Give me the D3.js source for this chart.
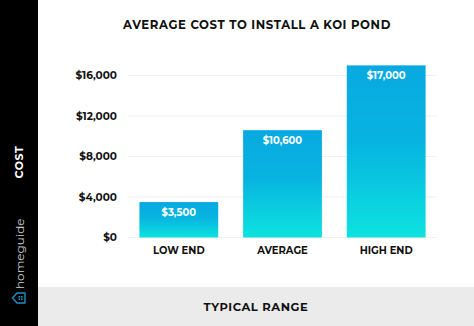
<!DOCTYPE html>
<html>
<head>
<meta charset="utf-8">
<script src="https://cdn.jsdelivr.net/npm/d3@7"></script>
<style>
  body { margin: 0; background: #fff; }
  text { font-family: "Montserrat", "DejaVu Sans", sans-serif; }
</style>
</head>
<body>
<div id="chart"></div>
<script>
// chart data
const categories = ["LOW END", "AVERAGE", "HIGH END"];
const costs = [3500, 10600, 17000];
const yTicks = [0, 4000, 8000, 12000, 16000];
const title = "AVERAGE COST TO INSTALL A KOI POND";
const yTitle = "COST";
const xTitle = "TYPICAL RANGE";

const W = 474, H = 326;
const SIDE = 38;

const svg = d3.select("#chart")
  .append("svg")
    .attr("width", W)
    .attr("height", H);

// gradient for the bars
const grad = svg.append("defs").append("linearGradient")
    .attr("id", "barGrad")
    .attr("x1", 0).attr("y1", 0).attr("x2", 0).attr("y2", 1);
grad.append("stop").attr("offset", "0%").attr("stop-color", "#08a9e1");
grad.append("stop").attr("offset", "45%").attr("stop-color", "#07b4e0");
grad.append("stop").attr("offset", "100%").attr("stop-color", "#0de3df");

// black side strip
svg.append("rect")
    .attr("x", 0).attr("y", 0)
    .attr("width", SIDE).attr("height", H)
    .attr("fill", "#000");

// grey footer band
svg.append("rect")
    .attr("x", SIDE).attr("y", 287)
    .attr("width", W - SIDE).attr("height", H - 287)
    .attr("fill", "#ebebeb");

// scales
const x = d3.scaleBand()
    .domain(categories)
    .range([128, 437])
    .paddingInner(0.24)
    .paddingOuter(0.11);

const y = d3.scaleLinear()
    .domain([0, 16000])
    .range([237.5, 75.5]);

// gridlines
svg.append("g")
  .selectAll("line")
  .data(yTicks)
  .join("line")
    .attr("x1", 128).attr("x2", 437)
    .attr("y1", d => y(d)).attr("y2", d => y(d))
    .attr("stroke", "#f0f0f0")
    .attr("stroke-width", 1);

// y axis labels
const yAxis = svg.append("g")
    .attr("transform", "translate(117,0)")
    .call(d3.axisLeft(y).tickValues(yTicks).tickSize(0).tickPadding(0)
      .tickFormat(d => "$" + d3.format(",")(d)));
yAxis.select(".domain").remove();
yAxis.selectAll("text")
    .attr("font-family", "Montserrat, 'DejaVu Sans', sans-serif")
    .attr("font-size", 10.5)
    .attr("font-weight", "bold")
    .attr("fill", "#111");

// bars
svg.append("g")
  .selectAll("rect")
  .data(costs)
  .join("rect")
    .attr("x", (d, i) => x(categories[i]))
    .attr("y", d => y(d))
    .attr("width", x.bandwidth())
    .attr("height", d => y(0) - y(d))
    .attr("fill", "url(#barGrad)");

// value labels
svg.append("g")
  .selectAll("text")
  .data(costs)
  .join("text")
    .attr("x", (d, i) => x(categories[i]) + x.bandwidth() / 2)
    .attr("y", d => y(d) + 14)
    .attr("text-anchor", "middle")
    .attr("font-size", 10)
    .attr("font-weight", "bold")
    .attr("fill", "#fff")
    .text(d => "$" + d3.format(",")(d));

// x axis labels
const xAxis = svg.append("g")
    .attr("transform", "translate(0,247)")
    .call(d3.axisBottom(x).tickSize(0).tickPadding(0));
xAxis.select(".domain").remove();
xAxis.selectAll("text")
    .attr("font-family", "Montserrat, 'DejaVu Sans', sans-serif")
    .attr("font-size", 10)
    .attr("font-weight", "bold")
    .attr("fill", "#111");

// title
svg.append("text")
    .attr("x", 257).attr("y", 29)
    .attr("text-anchor", "middle")
    .attr("font-size", 11.7)
    .attr("font-weight", "bold")
    .attr("letter-spacing", 0.6)
    .attr("fill", "#111")
    .text(title);

// x title
svg.append("text")
    .attr("x", 256).attr("y", 310.5)
    .attr("text-anchor", "middle")
    .attr("font-size", 11.5)
    .attr("font-weight", "bold")
    .attr("letter-spacing", 0.6)
    .attr("fill", "#111")
    .text(xTitle);

// y title in side strip
svg.append("text")
    .attr("transform", "translate(23,162) rotate(-90)")
    .attr("text-anchor", "middle")
    .attr("font-size", 11)
    .attr("font-weight", "bold")
    .attr("letter-spacing", 0.6)
    .attr("fill", "#fff")
    .text(yTitle);

// homeguide logo
svg.append("text")
    .attr("transform", "translate(23.5,289) rotate(-90)")
    .attr("text-anchor", "start")
    .attr("font-size", 12)
    .attr("fill", "#cfcfcf")
    .text("homeguide");

const logo = svg.append("g").attr("transform", "translate(19,298) rotate(-90)");
logo.append("path")
    .attr("d", "M-5,6 L-5,-2 L0,-6.5 L5,-2 L5,6 Z")
    .attr("fill", "none")
    .attr("stroke", "#1f8fc7")
    .attr("stroke-width", 1.4)
    .attr("stroke-linejoin", "round");
logo.selectAll("rect")
  .data([[-2, -0.5], [0.4, -0.5], [-2, 2], [0.4, 2]])
  .join("rect")
    .attr("x", d => d[0]).attr("y", d => d[1])
    .attr("width", 1.6).attr("height", 1.6)
    .attr("fill", "#1f8fc7");
</script>
</body>
</html>
